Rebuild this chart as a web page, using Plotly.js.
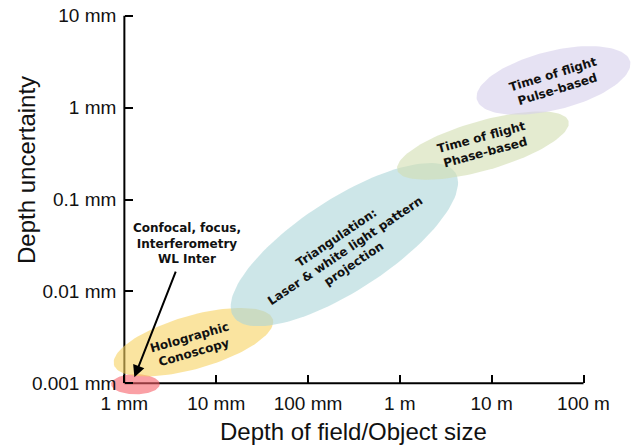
<!DOCTYPE html>
<html><head><meta charset="utf-8">
<script src="https://cdn.plot.ly/plotly-3.0.1.min.js"></script>
<style>html,body{margin:0;padding:0;background:#fff}#chart{width:634px;height:447px}</style>
</head><body><div id="chart"></div>
<script>
// Axis ticks
const xTickVals = [1, 10, 100, 1000, 10000, 100000];
const xTickText = ['1 mm', '10 mm', '100 mm', '1 m', '10 m', '100 m'];
const yTickVals = [0.001, 0.01, 0.1, 1, 10];
const yTickText = ['0.001 mm', '0.01 mm', '0.1 mm', '1 mm', '10 mm'];

// Technique regions (ellipses in log-log space)
const regionNames = ['Confocal', 'Holographic', 'Triangulation', 'ToF phase', 'ToF pulse'];
const regionCenterX = [1.32, 5.65, 249, 8035, 47100];      // mm
const regionCenterY = [0.000975, 0.0028, 0.0323, 0.386, 1.98]; // mm
const regionHalfLength = [0.265, 0.90, 1.44, 0.97, 0.86];  // decades
const regionHalfWidth = [0.11, 0.29, 0.50, 0.27, 0.32];    // decades
const regionTilt = [0, 16, 33, 16, 14];                    // degrees
const regionColors = ['rgba(247,97,105,0.6)', 'rgba(247,210,97,0.6)', 'rgba(172,213,217,0.6)',
                      'rgba(210,222,177,0.6)', 'rgba(213,207,235,0.6)'];

// Labels
const labelText = ['<b>Confocal, focus,</b><br><b>Interferometry</b><br><b>WL Inter</b>',
                   '<b>Holographic</b><br><b>Conoscopy</b>',
                   '<b>Triangulation:</b><br><b>Laser &amp; white light pattern</b><br><b>projection</b>',
                   '<b>Time of flight</b><br><b>Phase-based</b>',
                   '<b>Time of flight</b><br><b>Pulse-based</b>'];
const labelX = [4.85, 5.5, 255, 8150, 49500];
const labelY = [0.0335, 0.00259, 0.0281, 0.392, 1.90];
const labelAngle = [0, -16, -34, -15, -17];

// Arrow from the confocal label to its region
const arrowTip = [1.285, 0.00116];
const arrowTail = [3.68, 0.0170];

const L = Math.log10;
const traces = [];
// Axis lines (drawn first, from first/last tick values, so the regions tint them)
traces.push({x: [xTickVals[0], xTickVals[xTickVals.length - 1]], y: [yTickVals[0], yTickVals[0]],
  type: 'scatter', mode: 'lines', line: {color: '#000', width: 2}, hoverinfo: 'skip', showlegend: false});
traces.push({x: [xTickVals[0], xTickVals[0]], y: [yTickVals[0], yTickVals[yTickVals.length - 1]],
  type: 'scatter', mode: 'lines', line: {color: '#000', width: 2}, hoverinfo: 'skip', showlegend: false});
for (let i = 0; i < regionNames.length; i++) {
  const cx = L(regionCenterX[i]), cy = L(regionCenterY[i]);
  const a = regionHalfLength[i], b = regionHalfWidth[i];
  const t = regionTilt[i] * Math.PI / 180;
  const xs = [], ys = [];
  for (let k = 0; k <= 120; k++) {
    const p = 2 * Math.PI * k / 120;
    const u = a * Math.cos(p), v = b * Math.sin(p);
    xs.push(Math.pow(10, cx + u * Math.cos(t) - v * Math.sin(t)));
    ys.push(Math.pow(10, cy + u * Math.sin(t) + v * Math.cos(t)));
  }
  traces.push({x: xs, y: ys, type: 'scatter', mode: 'lines', fill: 'toself',
    fillcolor: regionColors[i], line: {width: 0, color: 'rgba(0,0,0,0)'},
    hoverinfo: 'skip', name: regionNames[i], showlegend: false});
}

const xr = [-0.2, 5.55], yr = [-3.15, 1.02];
const annotations = labelText.map((txt, i) => ({
  x: L(labelX[i]), y: L(labelY[i]), xref: 'x', yref: 'y', text: txt, showarrow: false,
  textangle: labelAngle[i], font: {family: 'DejaVu Sans', size: 12, color: '#111'}
}));
annotations.push({x: L(arrowTip[0]), y: L(arrowTip[1]), ax: L(arrowTail[0]), ay: L(arrowTail[1]),
  xref: 'x', yref: 'y', axref: 'x', ayref: 'y', text: '', showarrow: true,
  arrowhead: 2, arrowsize: 1.2, arrowwidth: 2, arrowcolor: '#000'});
annotations.push({xref: 'paper', yref: 'paper', x: (353 - 106) / 528, y: (397 - 432) / 383,
  text: 'Depth of field/Object size', showarrow: false, xanchor: 'center', yanchor: 'middle',
  font: {family: 'Liberation Sans, Arial', size: 24, color: '#111'}});
annotations.push({xref: 'paper', yref: 'paper', x: (26 - 106) / 528, y: (397 - 170) / 383,
  text: 'Depth uncertainty', showarrow: false, textangle: -90, xanchor: 'center', yanchor: 'middle',
  font: {family: 'Liberation Sans, Arial', size: 24, color: '#111'}});

const layout = {
  width: 634, height: 447,
  margin: {l: 106, r: 0, t: 14, b: 50},
  paper_bgcolor: '#fff', plot_bgcolor: '#fff',
  showlegend: false,
  font: {family: 'Liberation Sans, Arial', color: '#111'},
  xaxis: {type: 'log', range: xr, anchor: 'free', position: (-3 - yr[0]) / (yr[1] - yr[0]),
    tickvals: xTickVals, ticktext: xTickText, ticks: 'inside', ticklen: 8, tickwidth: 2, tickcolor: '#000',
    showgrid: false, zeroline: false, showline: false, tickfont: {size: 19, color: '#111'},
    ticklabelstandoff: 7},
  yaxis: {type: 'log', range: yr, anchor: 'free', position: (0 - xr[0]) / (xr[1] - xr[0]),
    tickvals: yTickVals, ticktext: yTickText, ticks: 'inside', ticklen: 8, tickwidth: 2, tickcolor: '#000',
    showgrid: false, zeroline: false, showline: false, tickfont: {size: 19, color: '#111'},
    ticklabelstandoff: 8},
  annotations: annotations
};
Plotly.newPlot('chart', traces, layout, {displayModeBar: false, staticPlot: true});
</script></body></html>
